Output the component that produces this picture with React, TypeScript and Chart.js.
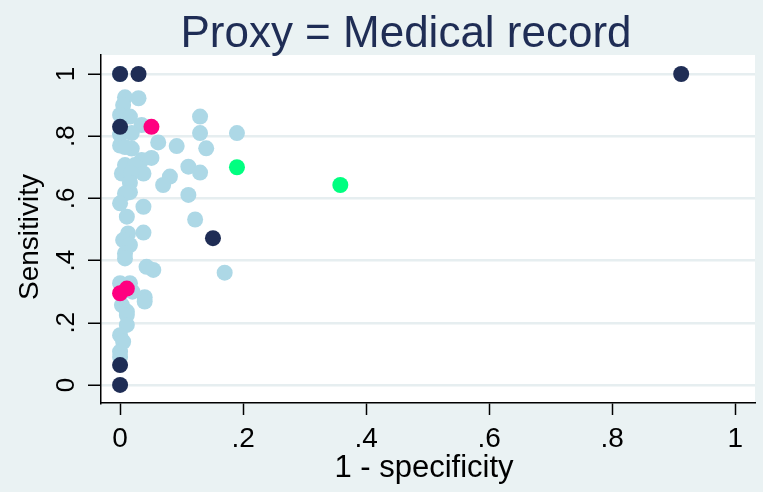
import React, { useEffect, useRef } from 'react';
import { Chart, registerables } from 'chart.js';

Chart.register(...registerables);

const titleText = 'Proxy = Medical record';
const xAxisTitle = '1 - specificity';
const yAxisTitle = 'Sensitivity';
const tickValues = [0, 0.2, 0.4, 0.6, 0.8, 1];
const tickLabels = ['0', '.2', '.4', '.6', '.8', '1'];

// [1 - specificity, sensitivity]
const lightBluePoints: [number, number][] = [
  [0.0, 1.0], [0.008, 0.925], [0.03, 0.922], [0.005, 0.9], [0.0, 0.868], [0.016, 0.863],
  [0.035, 0.836], [0.0, 0.805], [0.019, 0.81], [0.0, 0.77], [0.019, 0.76], [0.008, 0.765],
  [0.062, 0.78], [0.092, 0.768], [0.14, 0.761], [0.051, 0.73], [0.035, 0.723], [0.008, 0.707],
  [0.024, 0.707], [0.13, 0.863], [0.13, 0.81], [0.19, 0.81], [0.111, 0.702], [0.13, 0.683],
  [0.081, 0.67], [0.07, 0.643], [0.111, 0.611], [0.038, 0.573], [0.122, 0.532], [0.038, 0.49],
  [0.17, 0.361], [0.003, 0.68], [0.038, 0.68], [0.018, 0.68], [0.016, 0.65], [0.016, 0.62],
  [0.008, 0.616], [0.0, 0.584], [0.011, 0.541], [0.013, 0.487], [0.005, 0.466], [0.016, 0.45],
  [0.008, 0.423], [0.008, 0.407], [0.043, 0.38], [0.054, 0.37], [0.0, 0.327], [0.016, 0.327],
  [0.005, 0.3], [0.02, 0.3], [0.04, 0.282], [0.04, 0.268], [0.003, 0.257], [0.011, 0.236],
  [0.011, 0.225], [0.011, 0.193], [0.0, 0.16], [0.005, 0.139], [0.0, 0.107], [0.0, 0.09],
];
const navyPoints: [number, number][] = [
  [0.0, 1.0], [0.03, 1.0], [0.0, 0.83], [0.151, 0.472], [0.0, 0.064], [0.0, 0.0], [0.912, 1.0],
];
const magentaPoints: [number, number][] = [
  [0.051, 0.83], [0.011, 0.31], [0.0, 0.295],
];
const greenPoints: [number, number][] = [
  [0.19, 0.7], [0.358, 0.643],
];

const BG = '#EAF2F3';
const NAVY = '#1F2D55';
const FONT = "'Liberation Sans', Arial, sans-serif";

const toXY = (pts: [number, number][]) => pts.map(([x, y]) => ({ x, y }));
const tickText = (v: number) => {
  const i = tickValues.findIndex((t) => Math.abs(t - v) < 1e-6);
  return i >= 0 ? tickLabels[i] : '';
};

const decorPlugin = {
  id: 'decor',
  beforeDraw(chart: any) {
    const { ctx, chartArea: a, width, height } = chart;
    ctx.save();
    ctx.fillStyle = BG;
    ctx.fillRect(0, 0, width, height);
    ctx.fillStyle = '#FFFFFF';
    ctx.fillRect(a.left, a.top, a.right - a.left, a.bottom - a.top);
    ctx.restore();
  },
  afterDraw(chart: any) {
    const { ctx } = chart;
    ctx.save();
    ctx.fillStyle = NAVY;
    ctx.font = `44px ${FONT}`;
    ctx.textAlign = 'center';
    ctx.textBaseline = 'alphabetic';
    ctx.fillText(titleText, 406, 47);

    ctx.fillStyle = '#000';
    ctx.font = `31px ${FONT}`;
    ctx.fillText(xAxisTitle, 424, 477);

    ctx.font = `28px ${FONT}`;
    ctx.translate(38, 237);
    ctx.rotate(-Math.PI / 2);
    ctx.fillText(yAxisTitle, 0, 0);
    ctx.restore();
  },
};

export default function App() {
  const ref = useRef<HTMLCanvasElement | null>(null);
  useEffect(() => {
    document.body.style.margin = '0';
    document.body.style.background = BG;
    if (!ref.current) return;
    const pointStyle = (color: string) => ({
      backgroundColor: color,
      borderColor: color,
      borderWidth: 0,
      pointRadius: 8,
      pointHoverRadius: 8,
    });
    const chart = new Chart(ref.current, {
      type: 'scatter',
      data: {
        datasets: [
          { label: 'green', data: toXY(greenPoints), ...pointStyle('#00FF80') },
          { label: 'magenta', data: toXY(magentaPoints), ...pointStyle('#FF0080') },
          { label: 'navy', data: toXY(navyPoints), ...pointStyle(NAVY) },
          { label: 'light', data: toXY(lightBluePoints), ...pointStyle('#ADD8E6') },
        ],
      },
      options: {
        animation: false,
        responsive: false,
        events: [],
        layout: { padding: { top: 55, right: 6, left: 0, bottom: 0 } },
        plugins: {
          legend: { display: false },
          tooltip: { enabled: false },
          title: { display: false },
        },
        scales: {
          x: {
            type: 'linear',
            min: -0.031,
            max: 1.032,
            afterFit: (s: any) => { s.height = 89; },
            afterBuildTicks: (s: any) => { s.ticks = tickValues.map((v) => ({ value: v })); },
            ticks: {
              includeBounds: false,
              autoSkip: false,
              maxRotation: 0,
              minRotation: 0,
              padding: 7,
              color: '#000',
              font: { family: FONT, size: 28 },
              callback: (v: any) => tickText(Number(v)),
            },
            grid: {
              drawOnChartArea: false,
              drawTicks: true,
              tickLength: 12,
              tickColor: '#000',
              tickWidth: 1.5,
            },
            border: { display: true, color: '#000', width: 1.5 },
          },
          y: {
            type: 'linear',
            min: -0.058,
            max: 1.061,
            afterFit: (s: any) => { s.width = 101; },
            afterBuildTicks: (s: any) => { s.ticks = tickValues.map((v) => ({ value: v })); },
            ticks: {
              includeBounds: false,
              autoSkip: false,
              minRotation: 90,
              maxRotation: 90,
              crossAlign: 'center',
              padding: 10,
              color: '#000',
              font: { family: FONT, size: 26 },
              callback: (v: any) => tickText(Number(v)),
            },
            grid: {
              color: '#E6EEF0',
              lineWidth: 2.5,
              drawTicks: true,
              tickLength: 13,
              tickColor: '#000',
              tickWidth: 1.5,
            },
            border: { display: true, color: '#000', width: 1.5 },
          },
        },
      },
      plugins: [decorPlugin],
    });
    return () => chart.destroy();
  }, []);
  return (
    <div style={{ width: 763, height: 492 }}>
      <canvas ref={ref} width={763} height={492} />
    </div>
  );
}
